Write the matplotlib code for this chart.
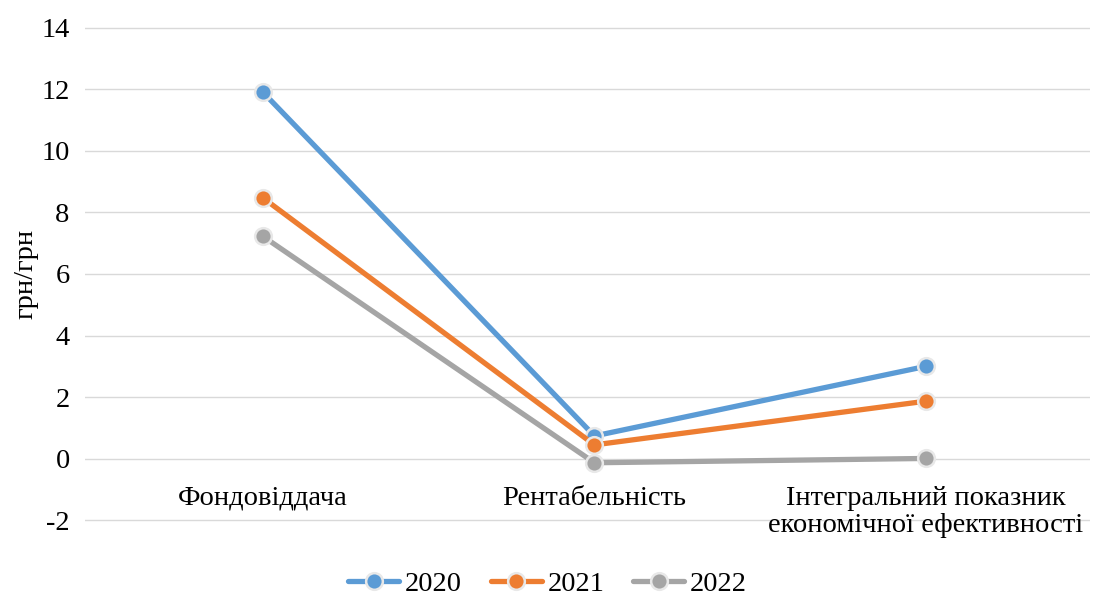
import matplotlib.pyplot as plt
import numpy as np

plt.rcParams["font.family"] = ["Liberation Serif", "DejaVu Serif"]

categories = ["Фондовіддача", "Рентабельність", "Інтегральний показник\nекономічної ефективності"]
years = ["2020", "2021", "2022"]
values_2020 = [11.9, 0.74, 3.0]
values_2021 = [8.47, 0.45, 1.87]
values_2022 = [7.22, -0.13, 0.01]
y_ticks = [-2, 0, 2, 4, 6, 8, 10, 12, 14]

colors = ["#5B9BD5", "#ED7D31", "#A5A5A5"]
fs = 20.5

fig = plt.figure(figsize=(10.95, 5.97), dpi=100)
ax = fig.add_axes([0.0776, 0.1258, 0.9178, 0.8306])

x = np.arange(len(categories))
for vals, year, col in zip([values_2020, values_2021, values_2022], years, colors):
    ax.plot(x, vals, color=col, linewidth=3.8, marker="o", markersize=12,
            markerfacecolor=col, markeredgecolor="#E8E8E8", markeredgewidth=1.8,
            label=year, zorder=3, solid_capstyle="round")

ax.set_xlim(-0.537, 2.495)
ax.set_ylim(-2.05, 14.05)
ax.set_yticks(y_ticks)
ax.set_yticklabels([str(t) for t in y_ticks], fontsize=fs)
ax.grid(axis="y", color="#D9D9D9", linewidth=1)
ax.set_axisbelow(True)
ax.tick_params(axis="both", length=0)
ax.tick_params(axis="y", pad=11)
for s in ax.spines.values():
    s.set_visible(False)

ax.set_xticks([])
for xi, lab in zip(x, categories):
    ax.text(xi, -0.88, lab, ha="center", va="top", fontsize=fs, linespacing=1.12)

ax.set_ylabel("грн/грн", fontsize=fs, labelpad=2)

# legend sits centred on the whole figure, below the category labels
ax.legend(loc="center", bbox_to_anchor=(0.5, 0.021), bbox_transform=fig.transFigure,
          ncol=3, frameon=False, fontsize=fs, handlelength=1.8, handletextpad=0.2,
          columnspacing=1.0)

fig.savefig("out.png", dpi=100)
